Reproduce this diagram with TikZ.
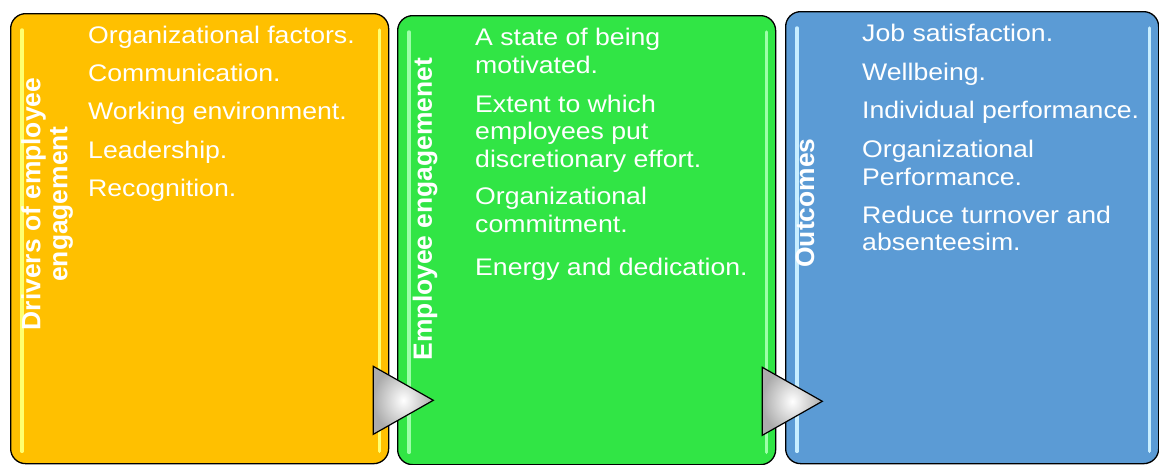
\documentclass[tikz,border=0pt]{standalone}
\usepackage{fontspec}
\setmainfont{Liberation Sans}
\newfontfamily\bodyfont[FakeStretch=1.11]{Liberation Sans}
\definecolor{cyel}{HTML}{FFC000}
\definecolor{cgrn}{HTML}{31E545}
\definecolor{cblu}{HTML}{5B9BD5}
\definecolor{hyel}{HTML}{FFFF70}
\definecolor{hgrn}{HTML}{9CFFA8}
\definecolor{hblu}{HTML}{C8EEFF}
\begin{document}
\begin{tikzpicture}[x=1pt,y=-1pt,
  panel/.style={draw=black, line width=1.3pt, rounded corners=15pt, anchor=north west, inner sep=0pt},
  hl/.style={line width=3.5pt, line cap=round},
  item/.style={anchor=base west, inner sep=0pt, text=white, font=\bodyfont\fontsize{24}{28}\selectfont},
  ttl/.style={rotate=90, inner sep=0pt, text=white, align=center, font=\bfseries\fontsize{26.4}{27}\selectfont},
  tri/.style={draw=black, line width=1.2pt, line join=miter, shading=radial, inner color=white, outer color=gray!65}
]
\useasboundingbox (0,0) rectangle (1159,464);
% panels
\node[panel, fill=cyel, minimum width=378pt, minimum height=450pt] (p1) at (10,13) {};
\node[panel, fill=cgrn, minimum width=378pt, minimum height=449pt] (p2) at (397,15) {};
\node[panel, fill=cblu, minimum width=373pt, minimum height=452pt] (p3) at (785,11) {};
% highlights
\foreach \p/\c in {p1/hyel, p2/hgrn, p3/hblu}{
  \draw[hl, draw=\c] ([xshift=12pt, yshift=-17pt]\p.north west) -- ([xshift=12pt, yshift=13pt]\p.south west);
  \draw[hl, draw=\c] ([xshift=-10pt, yshift=-17pt]\p.north east) -- ([xshift=-10pt, yshift=13pt]\p.south east);
}
% titles
\node[ttl] (t1) at (47,204) {Drivers of employee\\engagement};
\node[ttl] (t2) at (425,209) {Employee engagemenet};
\node[ttl] (t3) at (805,203) {Outcomes};
% yellow items
\node[item] (a1) at (88,43) {Organizational factors.};
\node[item] (a2) at (88,81) {Communication.};
\node[item] (a3) at (88,119) {Working environment.};
\node[item] (a4) at (88,158) {Leadership.};
\node[item] (a5) at (88,196) {Recognition.};
% green items
\node[item] (b1) at (475,45) {A state of being};
\node[item] (b1b) at (475,73) {motivated.};
\node[item] (b2) at (475,112) {Extent to which};
\node[item] (b2b) at (475,139) {employees put};
\node[item] (b2c) at (475,167) {discretionary effort.};
\node[item] (b3) at (475,204) {Organizational};
\node[item] (b3b) at (475,232) {commitment.};
\node[item] (b4) at (475,275) {Energy and dedication.};
% blue items
\node[item] (c1) at (862,41) {Job satisfaction.};
\node[item] (c2) at (862,80) {Wellbeing.};
\node[item] (c3) at (862,118) {Individual performance.};
\node[item] (c4) at (862,157) {Organizational};
\node[item] (c4b) at (862,185) {Performance.};
\node[item] (c5) at (862,223) {Reduce turnover and};
\node[item] (c5b) at (862,250) {absenteesim.};
% arrows between panels
\coordinate (r1) at ([xshift=-16pt, yshift=30pt]p1.south east);
\coordinate (r2) at ([xshift=-14pt, yshift=30pt]p2.south east);
\shade[tri] (r1) -- ++(0,-68) -- ++(60,34) -- cycle;
\shade[tri] (r2) -- ++(0,-68) -- ++(60,34) -- cycle;
\end{tikzpicture}
\end{document}
